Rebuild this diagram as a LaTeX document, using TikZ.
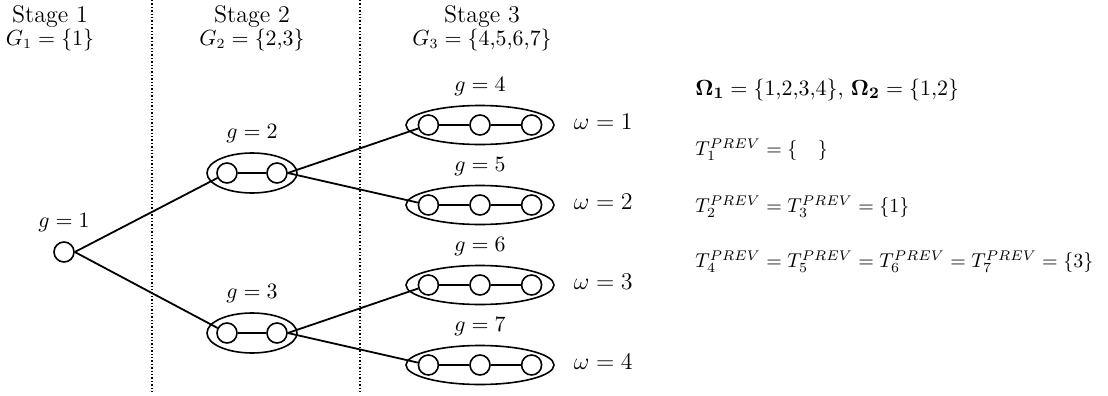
\documentclass[tikz,border=0pt]{standalone}
\usepackage{amsmath,amssymb}
\usetikzlibrary{positioning,shapes.geometric}
\newcommand{\stg}[1]{{\fontsize{12}{12}\selectfont Stage #1}}
\tikzset{
  st/.style={draw, circle, line width=0.8pt, minimum size=10pt, inner sep=0pt},
  grp/.style={draw, ellipse, line width=0.8pt, inner sep=0pt},
  grpA/.style={grp, minimum width=45pt, minimum height=20pt},
  grpB/.style={grp, minimum width=74pt, minimum height=19.5pt},
  link/.style={line width=0.9pt},
  divider/.style={densely dotted, line width=0.7pt},
  hdr/.style={align=center, font=\fontsize{10.5}{11.5}\selectfont},
  glab/.style={font=\fontsize{10.5}{12}\selectfont},
  wlab/.style={font=\fontsize{12}{14}\selectfont},
  info/.style={anchor=west, inner sep=0pt, font=\fontsize{10.2}{13}\selectfont}
}
\begin{document}
\begin{tikzpicture}[x=0.5pt, y=-0.5pt]
  \useasboundingbox (0,0) rectangle (1108,396);

  %% stage dividers
  \coordinate (d1a) at (152,0);
  \coordinate (d1b) at (152,392);
  \coordinate (d2a) at (360,0);
  \coordinate (d2b) at (360,392);
  \draw[divider] (d1a) -- (d1b);
  \draw[divider] (d2a) -- (d2b);

  %% headers
  \node[hdr] (s1) at (50,28) {\stg{1}\\$G_1=\{1\}$};
  \node[hdr] (s2) at (252,28) {\stg{2}\\$G_2=\{2{,}3\}$};
  \node[hdr] (s3) at (482,28) {\stg{3}\\$G_3=\{4{,}5{,}6{,}7\}$};

  %% stage 1
  \node[st] (c1) at (64,252) {};
  \node[glab, above=1pt of c1] (l1) {$g=1$};

  %% stage 2
  \node[grpA] (e2) at (252,173) {};
  \node[grpA] (e3) at (252,333) {};
  \foreach \g in {2,3}{
    \node[st, right=5pt of e\g.west] (c\g-a) {};
    \node[st, left=5pt of e\g.east] (c\g-b) {};
    \draw[link] (c\g-a) -- (c\g-b);
    \node[glab, above=1pt of e\g] (l\g) {$g=\g$};
  }

  %% stage 3
  \foreach \g/\y/\w in {4/125/1, 5/205/2, 6/285/3, 7/365/4}{
    \node[grpB] (e\g) at (480,\y) {};
    \node[st] (c\g-b) at (e\g) {};
    \node[st, left=15pt of c\g-b] (c\g-a) {};
    \node[st, right=15pt of c\g-b] (c\g-c) {};
    \draw[link] (c\g-a) -- (c\g-b) -- (c\g-c);
    \node[glab, above=1pt of e\g] (l\g) {$g=\g$};
    \node[wlab, right=6pt of e\g, yshift=1.5pt] (w\w) {$\omega=\w$};
  }

  %% branches
  \draw[link] (c1.east) -- (c2-a);
  \draw[link] (c1.east) -- (c3-a);
  \draw[link] (c2-b.east) -- (c4-a);
  \draw[link] (c2-b.east) -- (c5-a);
  \draw[link] (c3-b.east) -- (c6-a);
  \draw[link] (c3-b.east) -- (c7-a);

  %% sets
  \node[info, font=\fontsize{11}{13}\selectfont] (om) at (695,90)
    {$\mathbf{\Omega_1}=\{1{,}2{,}3{,}4\},\,\mathbf{\Omega_2}=\{1{,}2\}$};
  \node[info] (t1) at (695,150) {$T_1^{PREV}=\{\quad\}$};
  \node[info] (t2) at (695,207) {$T_2^{PREV}=T_3^{PREV}=\{1\}$};
  \node[info] (t4) at (695,262) {$T_4^{PREV}=T_5^{PREV}=T_6^{PREV}=T_7^{PREV}=\{3\}$};
\end{tikzpicture}
\end{document}
